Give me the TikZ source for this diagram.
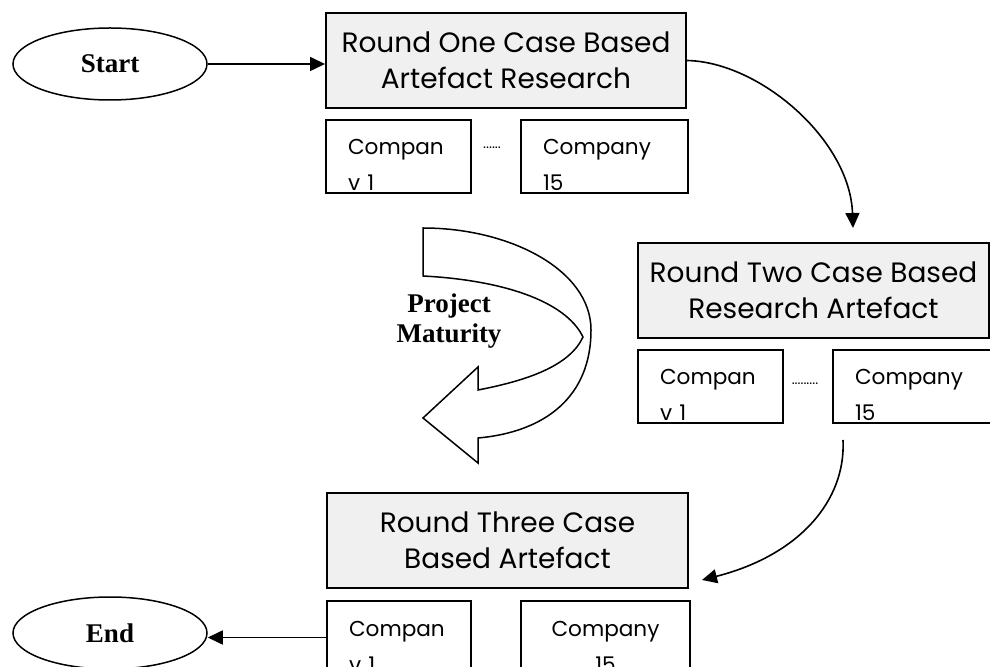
\documentclass[tikz,border=0pt]{standalone}
\usepackage{fontspec}
\setmainfont{Liberation Serif}
\newfontfamily\gothic{Poppins}
\usetikzlibrary{arrows.meta,positioning,shapes.geometric}
\tikzset{
  roundbox/.style={draw,line width=1pt,fill=gray!12,align=center,inner sep=0pt,
    font=\gothic\fontsize{14}{18}\selectfont},
  company/.style={draw,line width=1pt,inner xsep=11pt,inner ysep=0pt,text width=#1,
    text height=17.5pt,text depth=19pt,align=left,font=\gothic\fontsize{10.8}{18}\selectfont},
  terminal/.style={draw,ellipse,line width=0.75pt,minimum width=97pt,minimum height=36pt,
    inner sep=0pt,font=\fontsize{13.5}{15}\selectfont\bfseries},
  gapdots/.style={inner sep=0pt,font=\gothic\fontsize{7}{8}\selectfont},
  link/.style={-{Triangle[length=7.5pt,width=7pt]},line width=0.8pt}
}
\begin{document}
\begin{tikzpicture}[x=0.5pt,y=-0.5pt]
\useasboundingbox (0,0) rectangle (990,667);
% the three rounds
\node[roundbox,minimum width=180pt,minimum height=47.5pt,anchor=north west] (r1) at (325,12) {Round One Case Based\\Artefact Research};
\node[roundbox,minimum width=175.5pt,minimum height=47.5pt,anchor=north west] (r2) at (637,242) {Round Two Case Based\\Research Artefact};
\node[roundbox,minimum width=180.5pt,minimum height=47.5pt,anchor=north west] (r3) at (326,492) {Round Three Case\\Based Artefact};
% companies under each round
\node[company=50.5pt,below right=5pt and 0pt of r1.south west] (c1a) {Compan\\v 1};
\node[company=61.5pt,right=24pt of c1a] (c1b) {Company\\15};
\node[company=50.5pt,below right=5pt and 0pt of r2.south west] (c2a) {Compan\\v 1};
\node[company=57pt,right=24pt of c2a] (c2b) {Company\\15};
\node[company=50pt,below right=5.5pt and 0pt of r3.south west] (c3a) {Compan\\v 1};
\node[company=62.5pt,align=center,right=24pt of c3a] (c3b) {Company\\15};
\node[gapdots,anchor=base] (g1) at (492,149) {......};
\node[gapdots,anchor=base] (g2) at (805,385) {.........};
% start and end
\node[terminal] (start) at (110,64) {Start};
\node[terminal] (end) at (110,633) {End};
% maturity arrow
\draw[line width=0.75pt,fill=white] (423,228) .. controls (510,228) and (591,270) .. (591,330)
  .. controls (591,397) and (545,432) .. (478,438) -- (478,463) -- (423,418) -- (478,367) -- (478,390)
  .. controls (530,380) and (570,365) .. (583,337) .. controls (565,300) and (500,280) .. (423,276) -- cycle;
\node[font=\fontsize{13.5}{15}\selectfont\bfseries,align=center] (pm) at (449,321) {Project\\Maturity};
% connectors
\coordinate (r2in) at (853,228);
\coordinate (c2out) at (843,440);
\coordinate (r3in) at (702,580);
\draw[link] (start.east) -- (start.east -| r1.west);
\draw[link] (r1.east) .. controls (760,62) and (850,140) .. (r2in);
\draw[link] (c2out) .. controls (846,500) and (800,555) .. (r3in);
\draw[link] (c3a.west) -- (c3a.west -| end.east);
\end{tikzpicture}
\end{document}
